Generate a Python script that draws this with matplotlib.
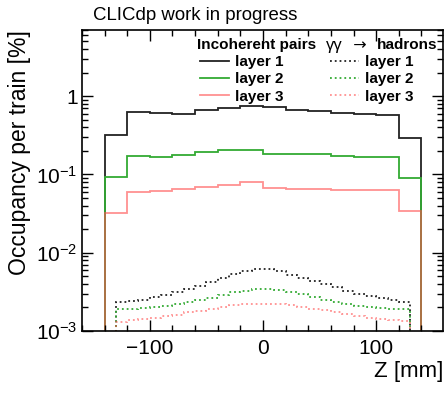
import numpy as np
import matplotlib
matplotlib.use("Agg")
from matplotlib import pyplot as plt
from matplotlib.ticker import FixedLocator, MultipleLocator, LogLocator, NullFormatter, FuncFormatter

plt.rcParams['font.family'] = ['Liberation Sans', 'DejaVu Sans']
plt.rcParams['mathtext.fontset'] = 'custom'
plt.rcParams['mathtext.rm'] = 'Liberation Sans'
plt.rcParams['mathtext.it'] = 'Liberation Sans:italic'
plt.rcParams['mathtext.bf'] = 'Liberation Sans:bold'

# incoherent pairs, 20 mm bins from -140 to 140
pairs_edges = np.arange(-140, 141, 20)
pairs_l1 = [0.32, 0.62, 0.605, 0.60, 0.66, 0.71, 0.75, 0.737, 0.675, 0.65, 0.605, 0.587, 0.577, 0.29]
pairs_l2 = [0.093, 0.173, 0.168, 0.178, 0.196, 0.208, 0.206, 0.185, 0.185, 0.183, 0.173, 0.166, 0.169, 0.091]
pairs_l3 = [0.032, 0.059, 0.0607, 0.0657, 0.069, 0.074, 0.080, 0.067, 0.065, 0.0657, 0.064, 0.0628, 0.064, 0.0336]

# gamma gamma -> hadrons, 10 mm bins from -130 to 130
had_edges = np.arange(-130, 131, 10)
had_l1 = [0.00233, 0.00240, 0.00252, 0.00270, 0.00290, 0.00312, 0.00340, 0.00380, 0.00425,
          0.00480, 0.00530, 0.00575, 0.00615, 0.00615, 0.00575, 0.00515, 0.00470, 0.00435,
          0.00400, 0.00360, 0.00325, 0.00300, 0.00278, 0.00260, 0.00245, 0.00233]
had_l2 = [0.00189, 0.00192, 0.00197, 0.00202, 0.00210, 0.00218, 0.00232, 0.00248, 0.00265,
          0.00288, 0.00310, 0.00328, 0.00342, 0.00343, 0.00335, 0.00315, 0.00292, 0.00270,
          0.00252, 0.00235, 0.00220, 0.00210, 0.00203, 0.00197, 0.00193, 0.00190]
had_l3 = [0.00131, 0.00136, 0.00142, 0.00148, 0.00155, 0.00162, 0.00172, 0.00182, 0.00192,
          0.00202, 0.00212, 0.00218, 0.00222, 0.00222, 0.00219, 0.00212, 0.00203, 0.00193,
          0.00183, 0.00173, 0.00163, 0.00155, 0.00147, 0.00141, 0.00136, 0.00132]

layers = ["layer 1", "layer 2", "layer 3"]
colors = ["#222222", "#33aa33", "#ff5555"]
alphas = [1.0, 1.0, 0.65]

fig = plt.figure(figsize=(4.45, 3.93), dpi=100)
ax = fig.add_axes([0.184, 0.158, 0.8115, 0.7655])

inc_handles = []
for vals, c, a, lab in zip([pairs_l1, pairs_l2, pairs_l3], colors, alphas, layers):
    h = ax.stairs(vals, pairs_edges, baseline=1e-5, color=c, alpha=a, lw=1.3, label=lab)
    inc_handles.append(h)
had_handles = []
for vals, c, a, lab in zip([had_l1, had_l2, had_l3], colors, alphas, layers):
    h = ax.stairs(vals, had_edges, baseline=1e-5, color=c, alpha=a, lw=1.3, ls=':', label=lab)
    had_handles.append(h)

ax.set_yscale('log')
ax.set_xlim(-160, 159)
ax.set_ylim(1e-3, 7)

ax.xaxis.set_major_locator(FixedLocator([-100, 0, 100]))
ax.xaxis.set_minor_locator(MultipleLocator(20))
ax.yaxis.set_major_locator(LogLocator(base=10, numticks=10))
ax.yaxis.set_minor_locator(LogLocator(base=10, subs=np.arange(2, 10), numticks=10))
ax.yaxis.set_minor_formatter(NullFormatter())

def ylab(v, pos):
    if abs(v - 1) < 1e-9:
        return "1"
    return r"$10^{%d}$" % int(round(np.log10(v)))

ax.yaxis.set_major_formatter(FuncFormatter(ylab))
ax.tick_params(which='both', direction='in', top=True, right=True, labelsize=15, width=1.0)
ax.tick_params(which='major', length=8, pad=6)
ax.tick_params(which='minor', length=4)
ax.tick_params(axis='y', pad=3)
for s in ax.spines.values():
    s.set_linewidth(1.2)

ax.set_ylabel("Occupancy per train [%]", fontsize=16.5, loc='top', labelpad=4)
ax.set_xlabel("Z [mm]", fontsize=16, loc='right', labelpad=2)
fig.text(0.209, 0.949, "CLICdp work in progress", fontsize=13.4, ha='left', va='baseline')

leg = ax.legend(handles=[inc_handles[0], inc_handles[1], inc_handles[2],
                         had_handles[0], had_handles[1], had_handles[2]],
                ncol=2, frameon=False, loc='upper left', bbox_to_anchor=(0.327, 0.917),
                prop={'weight': 'bold', 'size': 11}, handlelength=1.9,
                handletextpad=0.4, columnspacing=3.05, labelspacing=0.22,
                borderaxespad=0, borderpad=0)
ax.text(0.3186, 0.950, "Incoherent pairs", transform=ax.transAxes, fontsize=11,
        fontweight='bold', ha='left', va='center')
t1 = ax.text(0.676, 0.950, "γγ", transform=ax.transAxes, fontsize=12,
             ha='left', va='center')
t2 = ax.annotate("  →  ", xy=(1, 0.5), xycoords=t1, fontsize=11.5, family='DejaVu Sans',
                 ha='left', va='center')
ax.annotate("hadrons", xy=(1, 0.5), xycoords=t2, fontsize=11, fontweight='bold',
            ha='left', va='center')

fig.savefig("out.png", dpi=100)
